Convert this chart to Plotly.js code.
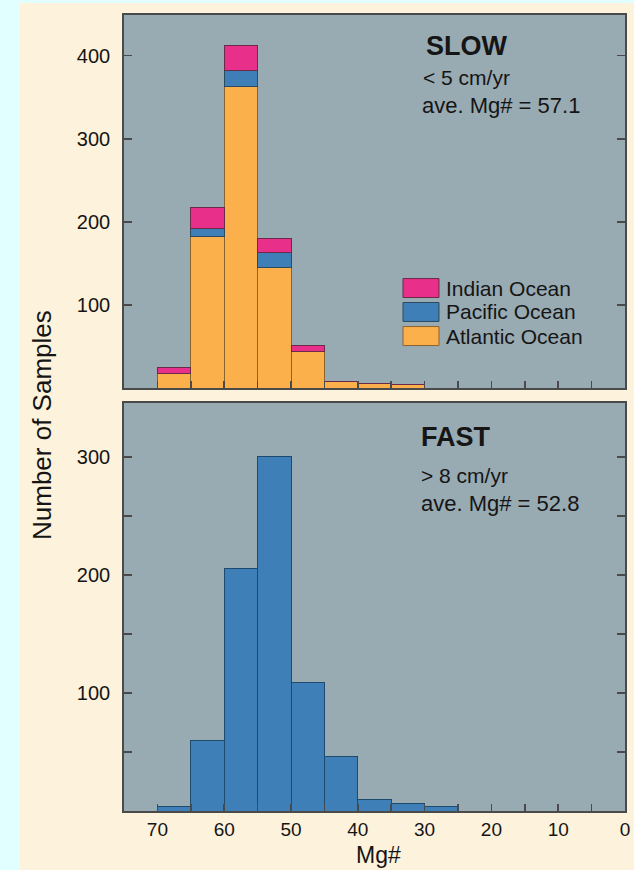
<!DOCTYPE html>
<html>
<head>
<meta charset="utf-8">
<script src="https://cdn.plot.ly/plotly-3.0.1.min.js"></script>
<style>
  html, body { margin: 0; padding: 0; background: #e2ffff; width: 634px; height: 870px; overflow: hidden; }
  #chart { position: absolute; left: 20px; top: 3px; width: 614px; height: 867px; }
</style>
</head>
<body>
<div id="chart"></div>
<script>
// Bin centres (Mg#), bins of 5 units from 70 down to 25
const binCenters = [67.5, 62.5, 57.5, 52.5, 47.5, 42.5, 37.5, 32.5, 27.5];

// SLOW spreading (< 5 cm/yr) stacked counts
const slowAtlantic = [18, 182, 363, 145, 44, 8, 6, 4, 0];
const slowPacific  = [0, 10, 19, 18, 0, 0, 0, 0, 0];
const slowIndian   = [7, 25, 30, 17, 7, 0, 0, 0, 0];

// FAST spreading (> 8 cm/yr) counts
const fastCounts = [4, 60, 206, 301, 109, 46, 10, 6, 4];

const seriesNames = ["Atlantic Ocean", "Pacific Ocean", "Indian Ocean"];
const legendOrder = ["Indian Ocean", "Pacific Ocean", "Atlantic Ocean"];
const xTickVals = [70, 65, 60, 55, 50, 45, 40, 35, 30, 25, 20, 15, 10, 5, 0];
const xTickText = ["70", "", "60", "", "50", "", "40", "", "30", "", "20", "", "10", "", "0"];
const slowYTicks = [100, 200, 300, 400];
const fastYTickVals = [50, 100, 150, 200, 250, 300];
const fastYTickText = ["", "100", "", "200", "", "300"];

const FONT = "Liberation Sans, Arial, Helvetica, sans-serif";
const colors = { "Atlantic Ocean": "#fcb04b", "Pacific Ocean": "#3d7fb6", "Indian Ocean": "#e8308a" };
const edges = { "Atlantic Ocean": "#8a6430", "Pacific Ocean": "#2c4a60", "Indian Ocean": "#6a2a48" };
const slowData = { "Atlantic Ocean": slowAtlantic, "Pacific Ocean": slowPacific, "Indian Ocean": slowIndian };

const traces = seriesNames.map(n => ({
  type: "bar", name: n, x: binCenters, y: slowData[n], width: 5, showlegend: false,
  xaxis: "x2", yaxis: "y2", marker: { color: colors[n], line: { color: edges[n], width: 1 } }
}));
traces.push({ type: "bar", name: "Fast", x: binCenters, y: fastCounts, width: 5, showlegend: false,
  xaxis: "x", yaxis: "y", marker: { color: "#3d7fb6", line: { color: "#1f4a70", width: 1 } } });

const frame = "#4a4a4a";

// custom legend (large swatches like the original)
const legRowY = [0.6570, 0.6269, 0.5967];
const legShapes = legendOrder.map((n, i) => ({
  type: "rect", xref: "paper", yref: "paper", x0: 0.5569, x1: 0.6287,
  y0: legRowY[i] - 0.0119, y1: legRowY[i] + 0.0119,
  fillcolor: colors[n], line: { color: edges[n], width: 1 }
}));
const legText = legendOrder.map((n, i) => ({
  text: n, xref: "paper", yref: "paper", x: 0.6387, y: legRowY[i], xanchor: "left", yanchor: "middle",
  showarrow: false, font: { family: FONT, size: 21, color: "#151515" }
}));

function note(text, x, y, size) {
  return { text, xref: "paper", yref: "paper", x, y, xanchor: "left", yanchor: "middle",
    showarrow: false, font: { family: FONT, size, color: "#151515" } };
}

const layout = {
  width: 614, height: 867,
  margin: { l: 104, r: 9, t: 12, b: 59 },
  paper_bgcolor: "#fdf2dc",
  plot_bgcolor: "#98aab2",
  barmode: "stack",
  bargap: 0,
  showlegend: false,
  xaxis: {
    domain: [0, 1], anchor: "y", range: [75, 0], autorange: false,
    tickmode: "array", tickvals: xTickVals, ticktext: xTickText,
    ticks: "inside", ticklen: 7, tickwidth: 1.5, tickcolor: frame,
    showline: true, linecolor: frame, linewidth: 1.8, mirror: true,
    showgrid: false, zeroline: false,
    tickfont: { family: FONT, size: 19, color: "#151515" }
  },
  yaxis: {
    domain: [0, 0.5126], anchor: "x", range: [0, 346], autorange: false,
    tickmode: "array", tickvals: fastYTickVals, ticktext: fastYTickText,
    ticks: "inside", ticklen: 8, tickwidth: 1.5, tickcolor: frame,
    showline: true, linecolor: frame, linewidth: 1.8, mirror: "ticks",
    showgrid: false, zeroline: false, ticklabelstandoff: 8,
    tickfont: { family: FONT, size: 20, color: "#151515" }
  },
  xaxis2: {
    domain: [0, 1], anchor: "y2", range: [75, 0], autorange: false, matches: "x",
    tickmode: "array", tickvals: xTickVals, showticklabels: false,
    ticks: "inside", ticklen: 7, tickwidth: 1.5, tickcolor: frame,
    showline: true, linecolor: frame, linewidth: 1.8, mirror: true,
    showgrid: false, zeroline: false
  },
  yaxis2: {
    domain: [0.5314, 1], anchor: "x2", range: [0, 449], autorange: false,
    tickmode: "array", tickvals: slowYTicks,
    ticks: "inside", ticklen: 8, tickwidth: 1.5, tickcolor: frame,
    showline: true, linecolor: frame, linewidth: 1.8, mirror: "ticks",
    showgrid: false, zeroline: false, ticklabelstandoff: 8,
    tickfont: { family: FONT, size: 20, color: "#151515" }
  },
  shapes: legShapes,
  annotations: [
    { text: "Number of Samples", xref: "paper", yref: "paper", x: -0.1637, y: 0.4849,
      textangle: -90, showarrow: false, xanchor: "center", yanchor: "middle",
      font: { family: FONT, size: 26, color: "#151515" } },
    { text: "Mg#", xref: "paper", yref: "paper", x: 0.507, y: -0.0553,
      showarrow: false, xanchor: "center", yanchor: "middle",
      font: { family: FONT, size: 23, color: "#151515" } },
    note("<b>SLOW</b>", 0.5988, 0.9611, 27),
    note("< 5 cm/yr", 0.5928, 0.9209, 21),
    note("ave. Mg# = 57.1", 0.5908, 0.8869, 22),
    note("<b>FAST</b>", 0.5888, 0.4698, 27),
    note("> 8 cm/yr", 0.5888, 0.4209, 21),
    note("ave. Mg# = 52.8", 0.5888, 0.3857, 22)
  ].concat(legText)
};

Plotly.newPlot("chart", traces, layout, { displayModeBar: false, staticPlot: true });
</script>
</body>
</html>
